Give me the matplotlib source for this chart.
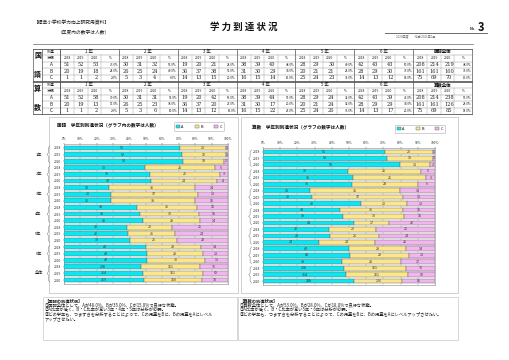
import matplotlib
matplotlib.use("Agg")
import matplotlib.pyplot as plt
from matplotlib.patches import Rectangle
from matplotlib.transforms import blended_transform_factory
import numpy as np

plt.rcParams['font.family'] = ['Noto Sans CJK JP', 'DejaVu Sans']

# ---------------- data ----------------
grades = ["1年", "2年", "3年", "4年", "5年", "6年", "全体"]
table_grades = ["1 年", "2 年", "3 年", "4 年", "5 年", "6 年"]
years = ["2018", "2019", "2020"]
levels = ["A", "B", "C"]

kokugo_A = [[51, 52, 53], [30, 31, 32], [19, 20, 21], [38, 39, 40], [28, 29, 30], [42, 43, 43], [208, 214, 219]]
kokugo_B = [[20, 19, 18], [26, 25, 24], [36, 37, 38], [31, 30, 29], [20, 21, 21], [28, 29, 30], [161, 161, 160]]
kokugo_C = [[1, 1, 2], [5, 3, 4], [14, 13, 15], [16, 15, 14], [25, 24, 23], [14, 13, 12], [75, 69, 70]]
kokugo_pct = [[73.0, 24.0, 2.0], [53.0, 40.0, 6.0], [28.0, 51.0, 20.0], [48.0, 34.0, 16.0],
              [40.0, 28.0, 31.0], [50.0, 35.0, 14.0], [48.0, 35.0, 15.0]]

sansu_A = [[51, 52, 58], [30, 31, 31], [19, 20, 42], [38, 39, 44], [28, 29, 24], [42, 43, 39], [208, 214, 238]]
sansu_B = [[20, 19, 13], [26, 25, 23], [36, 37, 20], [31, 30, 17], [20, 21, 24], [28, 29, 29], [161, 161, 126]]
sansu_C = [[1, 1, 2], [5, 3, 6], [14, 13, 12], [16, 15, 22], [25, 24, 26], [14, 13, 17], [75, 69, 85]]
sansu_pct = [[79.0, 17.0, 2.0], [51.0, 38.0, 10.0], [56.0, 27.0, 16.0], [53.0, 20.0, 26.0],
             [32.0, 32.0, 35.0], [45.0, 34.0, 20.0], [53.0, 28.0, 18.0]]

kokugo_notes = ["【国語の到達状況】",
                "①国語全体として、Aが48.0%、Bが35.0%、Cが15.0%で良好な状態。",
                "②A比率が低く、B・C比率が高い3年・4年・5年は分析が必要。",
                "③どの学年も、つまずきを分析することによって、Cの児童をBに、Bの児童をAにレベル",
                "アップさせたい。"]
sansu_notes = ["【算数の到達状況】",
               "①算数全体として、Aが53.0%、Bが28.0%、Cが18.0%で良好な状態。",
               "②A比率が低く、B・C比率が高い5年・6年は分析が必要。",
               "③どの学年も、つまずきを分析することによって、Cの児童をBに、Bの児童をAにレベルアップさせたい。"]

colors = ["#0CE6F0", "#FBE68C", "#F2B6EE"]
TXT = "#222222"

W, H = 509, 360
DPI = 100
fig = plt.figure(figsize=(W / DPI, H / DPI), dpi=DPI)
fig.patch.set_facecolor("white")
bg = fig.add_axes([0, 0, 1, 1])
bg.set_xlim(0, W)
bg.set_ylim(H, 0)
bg.axis("off")


def fx(x):
    return x / W


def fy(y):
    return 1 - y / H


# ---------------- header ----------------
bg.text(110, 22.5, "【標準小学校学力向上研究用資料】", fontsize=3.4, ha="right", va="center", color=TXT)
bg.text(110, 32, "（年度内の数字は人数）", fontsize=3.4, ha="right", va="center", color=TXT)
bg.text(244, 27, "学 力 到 達 状 況", fontsize=6.8, ha="center", va="center", fontweight="bold", color="#111111")
bg.plot([385, 487], [32.5, 32.5], color="#555555", lw=0.6)
bg.text(476, 28.5, "No.", fontsize=2.8, ha="right", va="center", color=TXT, fontweight="bold")
bg.text(477.5, 27.5, "3", fontsize=8, ha="left", va="center", color="#111111", fontweight="bold", style="italic")
bg.text(396, 36.5, "2020年度　　作成 2021年1月", fontsize=2.2, ha="left", va="center", color="#666666")
bg.plot([33, 473], [43.5, 43.5], color="#666666", lw=0.5)


# ---------------- tables ----------------
def draw_table(top, subj, total_label, A, B, C, pct):
    rh = 6.55
    x0, xs, xl, x1 = 33, 42, 60, 472
    gw = (x1 - xl) / 7
    subw = [0.24, 0.23, 0.23, 0.30]
    bot = top + 5 * rh
    lc = "#9a9a9a"
    for i in range(1, 5):
        y = top + i * rh
        bg.plot([xs, x1], [y, y], color=lc, lw=0.35)
    bg.plot([x0, x1], [top, top], color="#555555", lw=0.6)
    bg.plot([x0, x1], [bot, bot], color="#555555", lw=0.6)
    for x in [x0, xs, xl, x1]:
        bg.plot([x, x], [top, bot], color="#555555", lw=0.5)
    for g in range(7):
        gx = xl + g * gw
        bg.plot([gx, gx], [top, bot], color="#555555", lw=0.5)
        cx = gx
        for k in range(3):
            cx += subw[k] * gw
            bg.plot([cx, cx], [top + rh, bot], color=lc, lw=0.3)
    bg.text((x0 + xs) / 2, top + rh * 1.1, subj[0], fontsize=5, ha="center", va="center", fontweight="bold", color="#111111")
    bg.text((x0 + xs) / 2, top + rh * 3.9, subj[1], fontsize=5, ha="center", va="center", fontweight="bold", color="#111111")
    labs = ["到達", "状況"] + levels
    for i, t in enumerate(labs):
        bg.text((xs + xl) / 2, top + (i + 0.5) * rh, t, fontsize=2.8 if i < 2 else 3.4,
                ha="center", va="center", color=TXT)
    heads = table_grades + [total_label]
    for g in range(7):
        gx = xl + g * gw
        bg.text(gx + gw / 2, top + 0.5 * rh, heads[g], fontsize=3.2, ha="center", va="center",
                color="#111111", fontweight="bold" if g == 6 else "normal")
        edges = [gx]
        for k in range(4):
            edges.append(edges[-1] + subw[k] * gw)
        for k, yl in enumerate(years + ["%"]):
            bg.text((edges[k] + edges[k + 1]) / 2, top + 1.5 * rh, yl, fontsize=2.4, ha="center",
                    va="center", color=TXT)
        for j, data in enumerate([A, B, C]):
            yy = top + (j + 2.5) * rh
            for k in range(3):
                bg.text((edges[k] + edges[k + 1]) / 2 + (1.5 if k == 2 else 0), yy, str(data[g][k]),
                        fontsize=3.6, ha="center", va="center", color=TXT, family="DejaVu Serif")
            bg.text(edges[4] - 0.6, yy, f"{pct[g][j]:.1f}%", fontsize=2.2, ha="right", va="center", color=TXT)


draw_table(48.5, ["国", "語"], "国語全体", kokugo_A, kokugo_B, kokugo_C, kokugo_pct)
draw_table(81.5, ["算", "数"], "算数全体", sansu_A, sansu_B, sansu_C, sansu_pct)

# ---------------- chart panels ----------------
bg.add_patch(Rectangle((49, 117), 189, 176, facecolor="white", edgecolor="#c8c8c8", lw=0.6))
bg.add_patch(Rectangle((241, 117), 217, 176, facecolor="white", edgecolor="#c8c8c8", lw=0.6))
bg.text(57, 125, "国語　学年別到達状況（グラフ内の数字は人数）", fontsize=3.3, ha="left", va="center",
        color="#111111", fontweight="bold")
bg.text(252, 127, "算数　学年別到達状況（グラフの数字は人数）", fontsize=3.3, ha="left", va="center",
        color="#111111", fontweight="bold")


def draw_chart(rect, A, B, C, legend_center, show_groups, brace_x, label_x):
    ax = fig.add_axes(rect)
    ax.set_facecolor("white")
    n = len(grades) * len(years)
    rows = np.arange(n)
    vals = np.array([[A[g][y], B[g][y], C[g][y]] for g in range(len(grades)) for y in range(len(years))],
                    dtype=float)
    pct = vals / vals.sum(axis=1, keepdims=True) * 100
    left = np.zeros(n)
    handles = []
    for k, (name, col) in enumerate(zip(levels, colors)):
        b = ax.barh(rows, pct[:, k], left=left, height=0.72, color=col, edgecolor="#6f6f6f",
                    lw=0.35, label=name, zorder=3)
        handles.append(b)
        for r in rows:
            ax.text(left[r] + pct[r, k] / 2, r, f"{int(vals[r, k])}", ha="center", va="center",
                    fontsize=2.6, color="#333333", zorder=4)
        left += pct[:, k]
    ax.set_xlim(0, 100)
    ax.set_ylim(n - 0.4, -0.6)
    ax.set_xticks(np.arange(0, 101, 10))
    ax.set_xticklabels([f"{v}%" for v in range(0, 101, 10)])
    ax.xaxis.tick_top()
    ax.set_yticks(rows)
    ax.set_yticklabels(years * len(grades))
    ax.tick_params(axis="both", labelsize=2.4, length=0.8, width=0.3, pad=1.2, colors="#333333")
    ax.grid(axis="x", color="#b0b0b0", lw=0.35, zorder=0)
    for s in ax.spines.values():
        s.set_color("#888888")
        s.set_linewidth(0.4)
    tr = blended_transform_factory(ax.transAxes, ax.transData)
    for g in range(len(grades)):
        r0, r1 = g * 3 - 0.3, g * 3 + 2.3
        rm = g * 3 + 1
        xb = brace_x
        d = 0.008
        ax.plot([xb + d, xb, xb, xb - d, xb, xb, xb + d],
                [r0, r0 + 0.3, rm - 0.25, rm, rm + 0.25, r1 - 0.3, r1],
                transform=tr, clip_on=False, color="#777777", lw=0.35)
        if show_groups:
            ax.text(label_x, rm, grades[g], transform=tr, ha="center", va="center", fontsize=3.0,
                    color="#222222")
    leg = ax.legend(handles=handles, labels=levels, loc="center", bbox_to_anchor=legend_center,
                    bbox_transform=fig.transFigure, ncol=3, fontsize=2.8, frameon=True,
                    handlelength=0.9, handleheight=0.9, columnspacing=3.0, handletextpad=0.4,
                    borderpad=0.6, fancybox=True)
    leg.get_frame().set_linewidth(0.4)
    leg.get_frame().set_edgecolor("#999999")
    return ax


draw_chart([fx(64), fy(284), 164 / W, 140 / H], kokugo_A, kokugo_B, kokugo_C,
           (fx(199), fy(126.5)), True, -0.095, -0.155)
draw_chart([fx(263), fy(285), 172 / W, 137 / H], sansu_A, sansu_B, sansu_C,
           (fx(420), fy(129)), False, -0.075, -0.13)

# ---------------- notes ----------------
bg.add_patch(Rectangle((43, 297), 194, 43, facecolor="white", edgecolor="#c8c8c8", lw=0.5))
bg.add_patch(Rectangle((238, 297), 220, 43, facecolor="white", edgecolor="#c8c8c8", lw=0.5))
for i, t in enumerate(kokugo_notes):
    bg.text(44.5, 301 + i * 4.4, t, fontsize=3.1, ha="left", va="center", color=TXT,
            fontweight="bold" if i == 0 else "normal")
for i, t in enumerate(sansu_notes):
    bg.text(239.5, 301 + i * 4.4, t, fontsize=3.1, ha="left", va="center", color=TXT,
            fontweight="bold" if i == 0 else "normal")

fig.savefig("out.png", dpi=DPI, facecolor="white")
